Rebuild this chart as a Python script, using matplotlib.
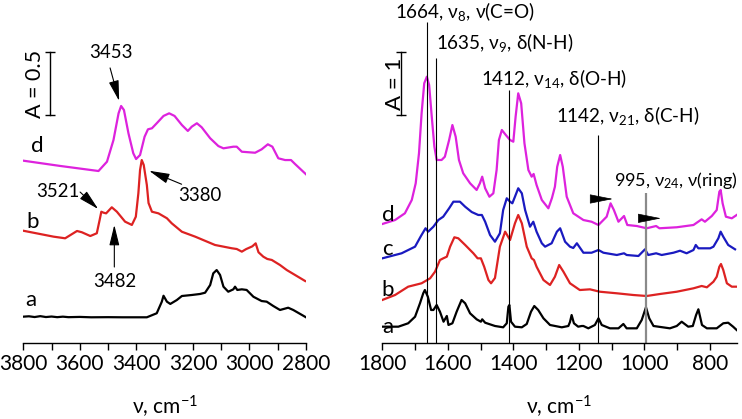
import matplotlib
matplotlib.use('Agg')
import matplotlib.pyplot as plt
from matplotlib.ticker import MultipleLocator

plt.rcParams['font.family'] = ['Lato', 'DejaVu Sans']
plt.rcParams['mathtext.fontset'] = 'custom'
plt.rcParams['mathtext.rm'] = 'Lato'
plt.rcParams['mathtext.it'] = 'Lato:italic'
plt.rcParams['mathtext.bf'] = 'Lato:bold'

# ---------------- Left panel (O-H / N-H / C-H stretching region) ----------------
left_d_nu = [3800, 3669, 3534, 3504, 3481, 3463, 3454, 3444, 3428, 3411, 3401, 3387, 3371, 3359,
             3345, 3328, 3304, 3284, 3265, 3239, 3218, 3204, 3186, 3169, 3139, 3110, 3092, 3057,
             3045, 3027, 2980, 2957, 2935, 2919, 2898, 2874, 2853, 2839, 2800]
left_d_A = [1.447, 1.405, 1.365, 1.439, 1.611, 1.823, 1.881, 1.849, 1.664, 1.506, 1.460, 1.492, 1.637,
            1.696, 1.704, 1.744, 1.802, 1.823, 1.802, 1.730, 1.683, 1.717, 1.744, 1.712, 1.625, 1.563,
            1.545, 1.558, 1.558, 1.518, 1.510, 1.537, 1.577, 1.558, 1.466, 1.452, 1.452, 1.421, 1.339]

left_b_nu = [3800, 3693, 3652, 3610, 3593, 3563, 3540, 3530, 3524, 3516, 3507, 3487, 3469, 3440,
             3416, 3402, 3393, 3387, 3381, 3374, 3363, 3357, 3345, 3322, 3292, 3275, 3239, 3192,
             3122, 3063, 3045, 3027, 3012, 2990, 2978, 2968, 2951, 2937, 2921, 2892, 2868, 2803]
left_b_A = [0.891, 0.844, 0.831, 0.889, 0.879, 0.849, 0.871, 0.976, 1.042, 1.034, 1.029, 1.077, 1.042,
            0.963, 0.937, 1.002, 1.188, 1.373, 1.452, 1.413, 1.254, 1.111, 1.042, 1.029, 0.990, 0.950,
            0.883, 0.844, 0.778, 0.752, 0.746, 0.725, 0.745, 0.767, 0.791, 0.720, 0.685, 0.667, 0.659,
            0.619, 0.579, 0.492]

left_a_nu = [3800, 3780, 3760, 3740, 3720, 3700, 3680, 3660, 3640, 3600, 3560, 3500, 3450, 3400,
             3363, 3328, 3310, 3304, 3292, 3280, 3257, 3239, 3204, 3175, 3157, 3139, 3128, 3116,
             3104, 3092, 3075, 3057, 3051, 3043, 3027, 3010, 2986, 2957, 2939, 2916, 2892, 2863,
             2845, 2800]
left_a_A = [0.209, 0.212, 0.206, 0.213, 0.206, 0.210, 0.205, 0.209, 0.205, 0.207, 0.204, 0.205, 0.204,
            0.204, 0.204, 0.236, 0.328, 0.375, 0.328, 0.310, 0.341, 0.373, 0.381, 0.389, 0.399, 0.460,
            0.553, 0.579, 0.540, 0.447, 0.407, 0.426, 0.447, 0.421, 0.426, 0.421, 0.367, 0.333, 0.328,
            0.294, 0.262, 0.280, 0.262, 0.204]

# ---------------- Right panel (fingerprint region) ----------------
right_d_nu = [1800, 1761, 1731, 1710, 1698, 1688, 1680, 1672, 1664, 1657, 1649, 1641, 1634, 1619,
              1609, 1596, 1586, 1576, 1566, 1553, 1532, 1512, 1502, 1495, 1486, 1473, 1461, 1451,
              1444, 1435, 1423, 1410, 1400, 1393, 1385, 1376, 1366, 1354, 1344, 1338, 1329, 1313,
              1293, 1282, 1273, 1266, 1257, 1249, 1237, 1217, 1186, 1161, 1140, 1115, 1103, 1093,
              1079, 1062, 1052, 1023, 993, 964, 954, 901, 850, 825, 815, 794, 779, 771, 767, 761,
              751, 733, 718]
right_d_A = [1.889, 1.952, 2.059, 2.270, 2.535, 3.011, 3.646, 4.122, 4.227, 4.095, 3.592, 3.116, 2.905,
             2.905, 2.957, 3.222, 3.460, 3.275, 2.905, 2.694, 2.535, 2.429, 2.535, 2.640, 2.456, 2.322,
             2.376, 2.746, 3.222, 3.381, 3.302, 3.222, 3.195, 3.592, 3.963, 3.805, 3.170, 2.746, 2.640,
             2.683, 2.508, 2.270, 2.138, 2.302, 2.481, 2.798, 2.984, 2.798, 2.322, 2.059, 1.952, 1.925,
             1.873, 2.005, 2.217, 2.111, 1.925, 2.016, 1.873, 1.857, 1.821, 1.857, 1.821, 1.837, 1.873,
             1.963, 1.925, 2.016, 2.111, 2.402, 2.429, 2.217, 2.005, 1.979, 2.032]

right_c_nu = [1800, 1741, 1700, 1682, 1668, 1660, 1644, 1629, 1614, 1596, 1583, 1563, 1547, 1527,
              1507, 1496, 1486, 1471, 1456, 1441, 1431, 1420, 1410, 1403, 1395, 1385, 1374, 1364,
              1349, 1339, 1329, 1313, 1303, 1283, 1267, 1257, 1242, 1227, 1217, 1206, 1186, 1161,
              1140, 1125, 1084, 1062, 1054, 1018, 998, 988, 964, 947, 911, 891, 871, 850, 843, 835,
              799, 789, 774, 767, 759, 744, 723]
right_c_A = [1.344, 1.424, 1.529, 1.698, 1.821, 1.767, 1.846, 1.952, 2.005, 2.138, 2.243, 2.243, 2.163,
             2.079, 2.032, 2.032, 1.925, 1.714, 1.608, 1.741, 2.111, 2.297, 2.243, 2.217, 2.322, 2.456,
             2.376, 2.111, 1.846, 1.925, 1.767, 1.583, 1.529, 1.583, 1.767, 1.821, 1.608, 1.529, 1.508,
             1.583, 1.433, 1.433, 1.476, 1.433, 1.397, 1.424, 1.397, 1.381, 1.487, 1.397, 1.424, 1.397,
             1.433, 1.465, 1.424, 1.476, 1.556, 1.503, 1.503, 1.529, 1.662, 1.767, 1.687, 1.556, 1.487]

right_b_nu = [1800, 1761, 1721, 1680, 1654, 1639, 1624, 1614, 1603, 1593, 1580, 1568, 1547, 1522,
              1509, 1499, 1489, 1476, 1468, 1456, 1441, 1425, 1410, 1395, 1385, 1374, 1359, 1344,
              1337, 1329, 1308, 1288, 1273, 1260, 1247, 1227, 1197, 1166, 1136, 1084, 1034, 993,
              952, 901, 850, 825, 809, 789, 779, 771, 766, 759, 748, 733, 720]
right_b_A = [0.683, 0.762, 0.894, 0.948, 1.027, 1.132, 1.317, 1.344, 1.370, 1.529, 1.678, 1.662, 1.556,
             1.424, 1.344, 1.344, 1.211, 1.000, 0.948, 1.032, 1.529, 1.767, 1.635, 1.900, 2.032, 1.900,
             1.529, 1.344, 1.317, 1.211, 1.000, 0.921, 1.052, 1.238, 1.132, 0.948, 0.841, 0.852, 0.814,
             0.789, 0.762, 0.746, 0.778, 0.814, 0.868, 0.905, 0.884, 0.973, 1.052, 1.211, 1.254, 1.159,
             0.948, 0.894, 0.894]

right_a_nu = [1800, 1751, 1721, 1700, 1685, 1675, 1670, 1661, 1651, 1644, 1634, 1624, 1613, 1603,
              1598, 1586, 1573, 1558, 1547, 1532, 1512, 1499, 1495, 1486, 1456, 1431, 1420, 1415,
              1412, 1407, 1395, 1374, 1359, 1346, 1336, 1324, 1308, 1293, 1288, 1252, 1232, 1227,
              1222, 1215, 1202, 1191, 1186, 1171, 1151, 1140, 1130, 1105, 1079, 1064, 1054, 1023,
              1008, 995, 985, 972, 922, 901, 886, 866, 852, 842, 835, 824, 809, 779, 759, 744, 729, 718]
right_a_A = [0.259, 0.259, 0.313, 0.417, 0.630, 0.789, 0.841, 0.735, 0.524, 0.524, 0.603, 0.497, 0.338,
             0.429, 0.286, 0.313, 0.497, 0.683, 0.630, 0.471, 0.376, 0.338, 0.376, 0.322, 0.270, 0.249,
             0.313, 0.576, 0.603, 0.338, 0.259, 0.249, 0.302, 0.497, 0.587, 0.524, 0.392, 0.313, 0.286,
             0.249, 0.270, 0.333, 0.444, 0.313, 0.259, 0.270, 0.270, 0.233, 0.286, 0.392, 0.286, 0.233,
             0.233, 0.302, 0.233, 0.233, 0.365, 0.567, 0.392, 0.270, 0.233, 0.270, 0.338, 0.259, 0.270,
             0.444, 0.535, 0.286, 0.233, 0.233, 0.313, 0.322, 0.259, 0.206]

# band assignments
band_nu = [1664, 1635, 1412, 1142, 995]
band_labels = ["1664, ν$_{8}$, ν(C=O)", "1635, ν$_{9}$, δ(N-H)", "1412, ν$_{14}$, δ(O-H)",
               "1142, ν$_{21}$, δ(C-H)", "995, ν$_{24}$, ν(ring)"]
band_line_top = [5.095, 4.524, 4.016, 3.302, 2.381]
band_text_x = [1761, 1637, 1499, 1270, 1093]
band_text_y = [5.254, 4.762, 4.206, 3.619, 2.587]

MAG = '#DD22DD'
RED = '#DD2222'
BLUE = '#1A1AC0'
BLK = '#000000'

TICK_FS = 15

fig = plt.figure(figsize=(7.42, 4.19), dpi=100)
axL = fig.add_axes([23.3 / 742, 76 / 419, 282.7 / 742, 343 / 419])
axR = fig.add_axes([382.3 / 742, 76 / 419, 354.4 / 742, 343 / 419])

for ax in (axL, axR):
    for s in ('left', 'right', 'top'):
        ax.spines[s].set_visible(False)
    ax.spines['bottom'].set_linewidth(1.0)
    ax.set_yticks([])
    ax.xaxis.set_major_locator(MultipleLocator(200))
    ax.xaxis.set_minor_locator(MultipleLocator(100))
    ax.tick_params(axis='x', which='both', direction='out', length=5, width=1.0,
                   labelsize=TICK_FS, pad=3)
    ax.set_xlabel("ν, cm$^{-1}$", fontsize=TICK_FS, labelpad=14)

LW = 1.6
axL.plot(left_d_nu, left_d_A, color=MAG, lw=LW)
axL.plot(left_b_nu, left_b_A, color=RED, lw=LW)
axL.plot(left_a_nu, left_a_A, color=BLK, lw=LW)
axL.set_xlim(3800, 2800)
axL.set_ylim(0, 343 / 126)

axR.plot(right_d_nu, right_d_A, color=MAG, lw=LW)
axR.plot(right_c_nu, right_c_A, color=BLUE, lw=LW)
axR.plot(right_b_nu, right_b_A, color=RED, lw=LW)
axR.plot(right_a_nu, right_a_A, color=BLK, lw=LW)
axR.set_xlim(1800, 718)
axR.set_ylim(0, 343 / 63)

# curve letters
for ax, xs, ys, ls in ((axL, [3752, 3766, 3773], [1.563, 0.960, 0.341], ['d', 'b', 'a']),
                       (axR, [1783, 1783, 1783, 1783], [2.032, 1.492, 0.841, 0.254], ['d', 'c', 'b', 'a'])):
    for x, y, l in zip(xs, ys, ls):
        ax.text(x, y, l, fontsize=16, ha='center', va='center')

# scale bars
axL.plot([3706, 3706], [1.810, 2.310], color='k', lw=1.0, marker='_', ms=7, mew=1.0)
axL.text(3759, 2.056, "A = 0.5", rotation=90, fontsize=15.5, ha='center', va='center')
axR.plot([1743, 1743], [3.619, 4.619], color='k', lw=1.0, marker='_', ms=7, mew=1.0)
axR.text(1761, 4.119, "A = 1", rotation=90, fontsize=16, ha='center', va='center')

# left peak annotations
arrow_kw = dict(arrowstyle='-|>,head_length=0.9,head_width=0.22', color='k', lw=0.8,
                mutation_scale=14, shrinkA=0, shrinkB=0)
ann = [("3453", (3490, 2.302), (3493, 2.183), (3461, 1.921)),
       ("3380", (3175, 1.167), (3240, 1.260), (3355, 1.367)),
       ("3521", (3677, 1.206), (3599, 1.198), (3535, 1.063)),
       ("3482", (3478, 0.492), (3478, 0.603), (3478, 0.937))]
for txt, tpos, start, end in ann:
    axL.text(tpos[0], tpos[1], txt, fontsize=13.4, ha='center', va='center')
    axL.annotate("", xy=end, xytext=start, arrowprops=arrow_kw)

# right band lines and labels
for nu, lab, top, tx, ty in zip(band_nu, band_labels, band_line_top, band_text_x, band_text_y):
    if nu == 995:
        axR.vlines(nu, 0, top, color='#8a8a8a', lw=1.6)
        fs = 13.0
    else:
        axR.vlines(nu, 0, top, color='k', lw=0.8)
        fs = 13.6
    axR.text(tx, ty, lab, fontsize=fs, ha='left', va='center')

head_kw = dict(arrowstyle='-|>,head_length=1.0,head_width=0.2', color='k', lw=0.5,
               mutation_scale=15, shrinkA=0, shrinkB=0)
axR.annotate("", xy=(1096, 2.286), xytext=(1142, 2.286), arrowprops=head_kw)
axR.annotate("", xy=(949, 1.979), xytext=(995, 1.979), arrowprops=head_kw)

fig.savefig('out.png', dpi=100)
